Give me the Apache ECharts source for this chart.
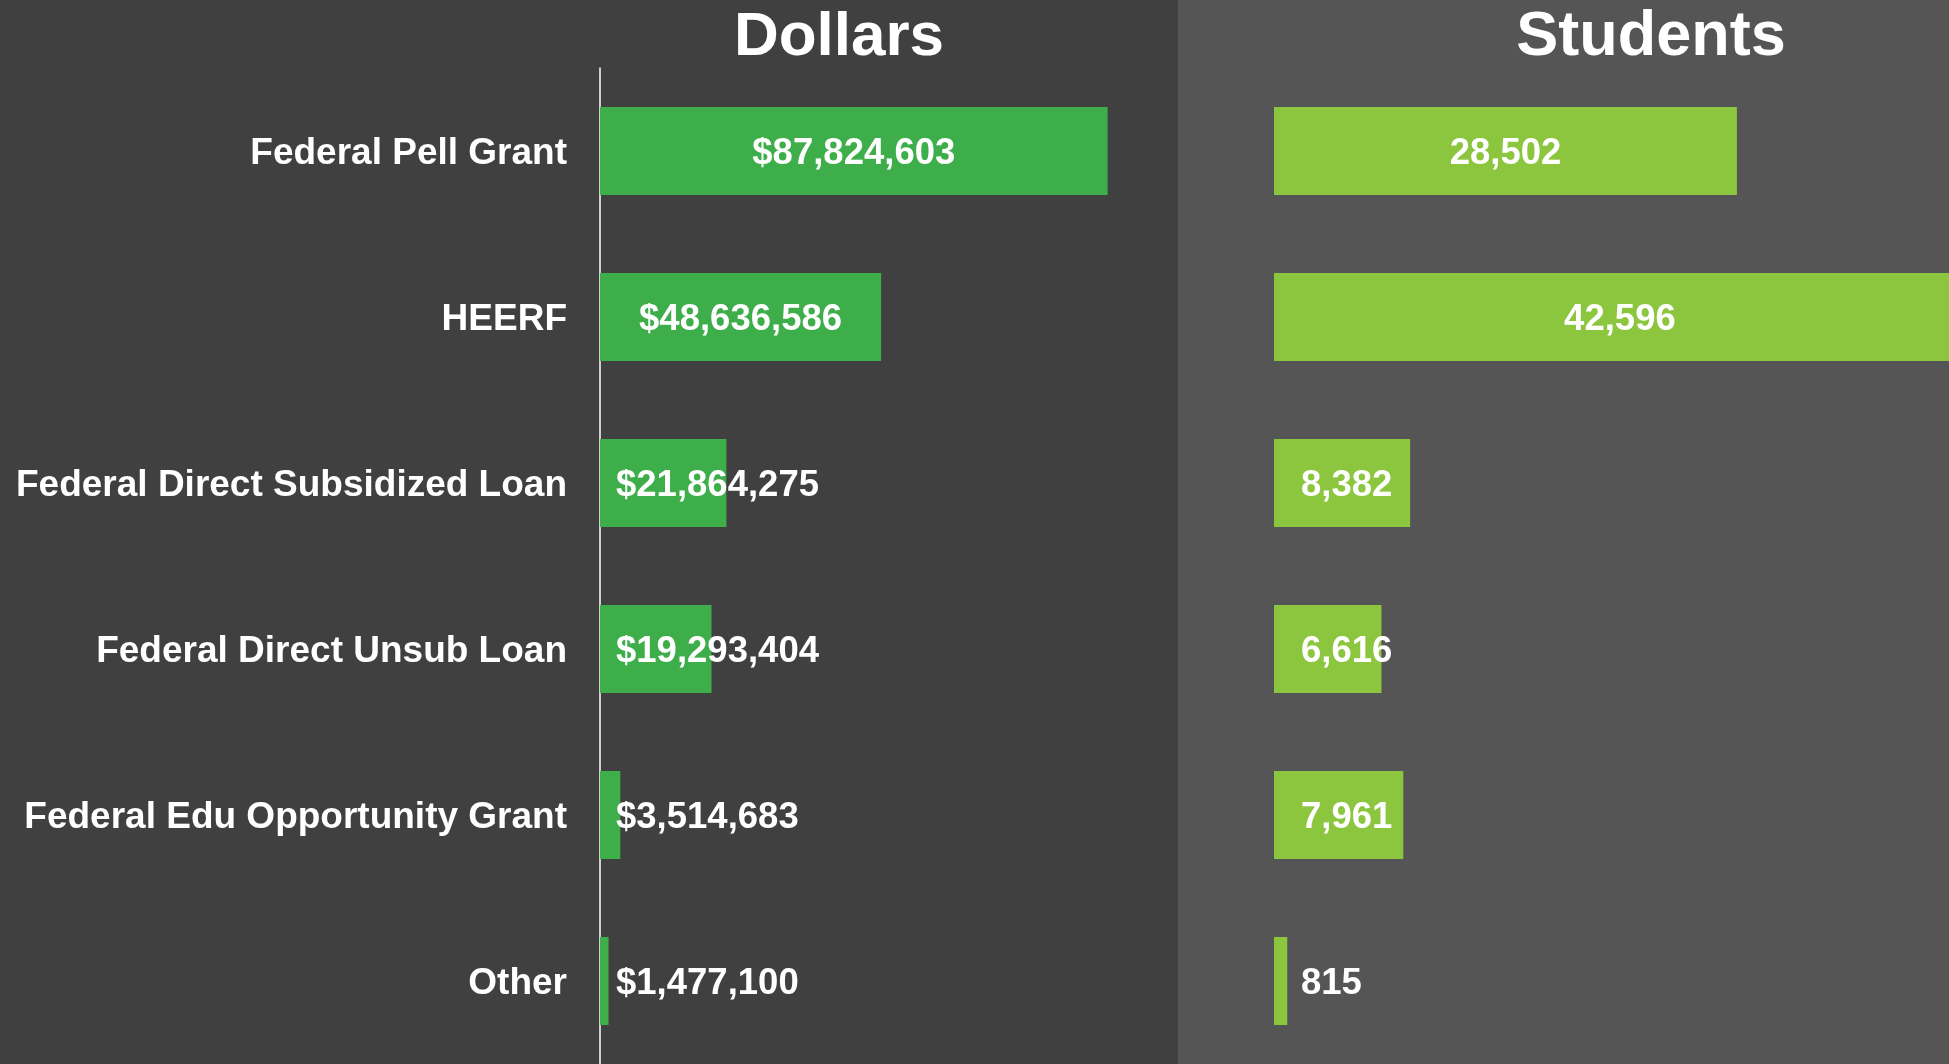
<!DOCTYPE html>
<html>
<head>
<meta charset="utf-8">
<script src="https://cdn.jsdelivr.net/npm/echarts@6/dist/echarts.min.js"></script>
<style>
html,body{margin:0;padding:0;background:#555555;}
#chart{width:1949px;height:1064px;}
</style>
</head>
<body>
<div id="chart"></div>
<script>
const categories = ['Federal Pell Grant','HEERF','Federal Direct Subsidized Loan','Federal Direct Unsub Loan','Federal Edu Opportunity Grant','Other'];
const dollars = [87824603, 48636586, 21864275, 19293404, 3514683, 1477100];
const students = [28502, 42596, 8382, 6616, 7961, 815];
const panelTitles = ['Dollars', 'Students'];

const FONT = '"Liberation Sans", Arial, sans-serif';
const chart = echarts.init(document.getElementById('chart'));

function build(values, threshold, dist) {
  return values.map(v => ({
    value: v,
    label: v > threshold
      ? { position: 'inside' }
      : { position: 'insideLeft', distance: dist }
  }));
}

const labelStyle = {
  show: true,
  color: '#ffffff',
  fontFamily: FONT,
  fontWeight: 'bold',
  fontSize: 36.5,
  offset: [0, 3]
};

chart.setOption({
  backgroundColor: '#555555',
  animation: false,
  graphic: [
    { type: 'rect', z: -10, left: 0, top: 0, shape: { width: 1178, height: 1064 }, style: { fill: '#404040' } },
    { type: 'text', z: 10, x: 839, y: 38, style: { text: panelTitles[0], align: 'center', verticalAlign: 'middle', fill: '#ffffff', font: 'bold 62px ' + FONT } },
    { type: 'text', z: 10, x: 1651, y: 38, style: { text: panelTitles[1], align: 'center', verticalAlign: 'middle', fill: '#ffffff', font: 'bold 63px ' + FONT } }
  ],
  grid: [
    { left: 600, top: 68, width: 578, height: 999 },
    { left: 1274, top: 68, right: 0, height: 999 }
  ],
  xAxis: [
    { type: 'value', gridIndex: 0, min: 0, max: 100000000, show: false },
    { type: 'value', gridIndex: 1, min: 0, max: 41560, show: false }
  ],
  yAxis: [
    {
      type: 'category', gridIndex: 0, data: categories, inverse: true,
      axisLine: { show: true, lineStyle: { color: '#ffffff', width: 1.5 } },
      axisTick: { show: false },
      axisLabel: {
        color: '#ffffff', fontFamily: FONT, fontWeight: 'bold', fontSize: 37, margin: 33,
        formatter: v => '{a|' + v + '}',
        rich: { a: { color: '#ffffff', fontFamily: FONT, fontWeight: 'bold', fontSize: 37, padding: [6, 0, 0, 0] } }
      }
    },
    {
      type: 'category', gridIndex: 1, data: categories, inverse: true,
      axisLine: { show: false }, axisTick: { show: false }, axisLabel: { show: false }
    }
  ],
  series: [
    {
      type: 'bar', xAxisIndex: 0, yAxisIndex: 0, barWidth: 88, clip: false,
      itemStyle: { color: '#3dae4a' },
      label: Object.assign({}, labelStyle, { formatter: p => '$' + p.value.toLocaleString('en-US') }),
      data: build(dollars, 40000000, 16)
    },
    {
      type: 'bar', xAxisIndex: 1, yAxisIndex: 1, barWidth: 88, clip: false,
      itemStyle: { color: '#8cc63f' },
      label: Object.assign({}, labelStyle, { formatter: p => p.value.toLocaleString('en-US') }),
      data: build(students, 20000, 27)
    }
  ]
});
</script>
</body>
</html>
